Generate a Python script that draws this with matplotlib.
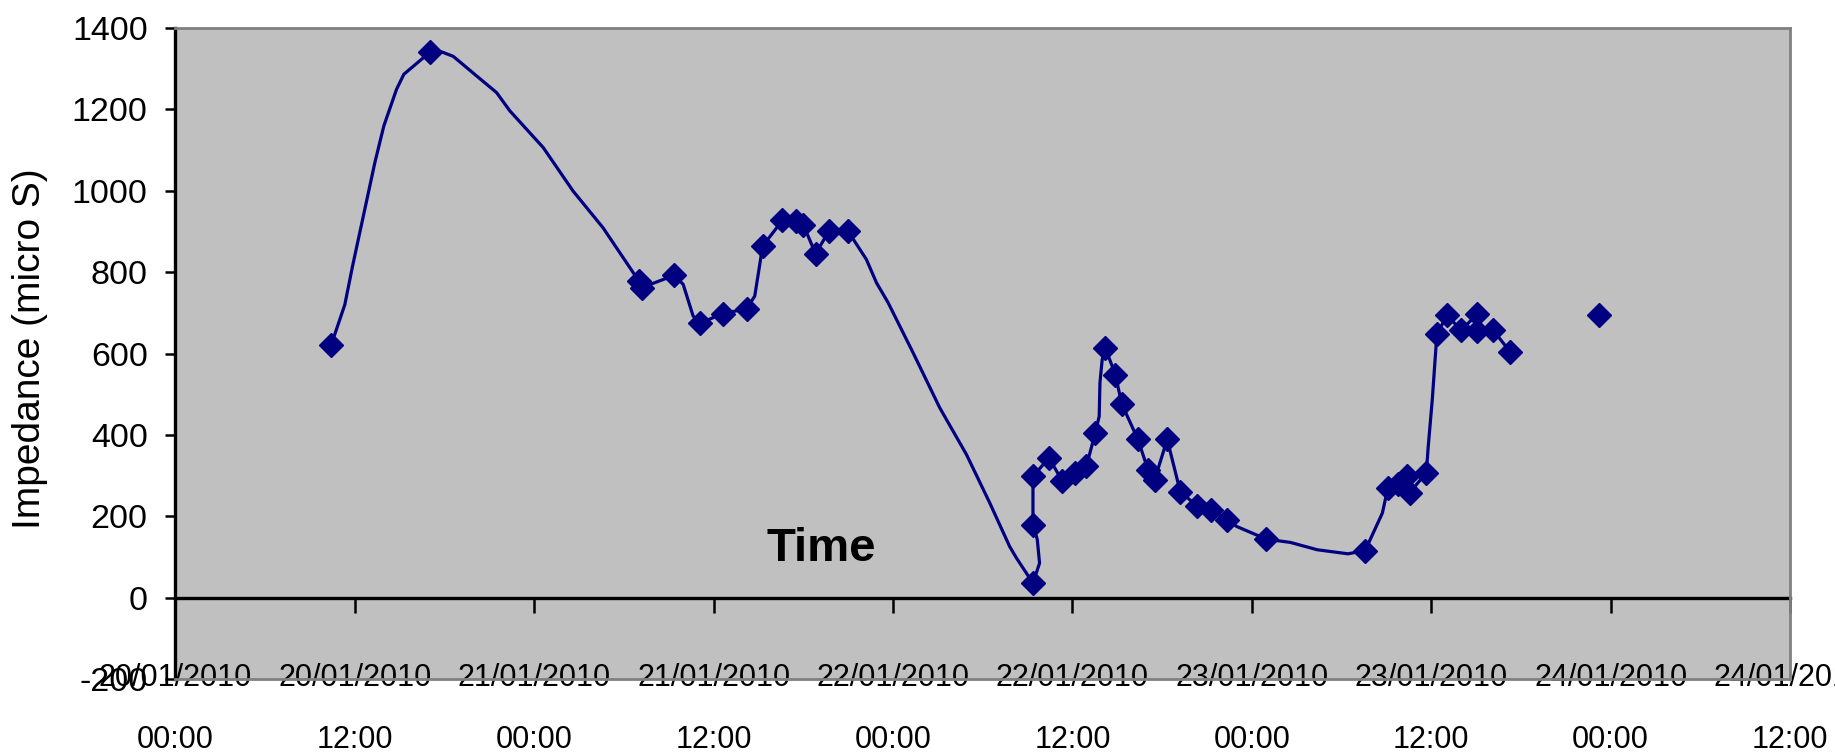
import matplotlib
matplotlib.use('Agg')
import matplotlib.pyplot as plt
from datetime import datetime, timedelta

# hours counted from 20/01/2010 00:00
start = datetime(2010, 1, 20, 0, 0)

marker_hours = [10.41, 17.02, 31.0, 31.2, 33.36, 35.1, 36.63, 38.2, 39.28, 40.6,
                41.5, 42.0, 42.82, 43.7, 45.0, 57.36, 57.36, 57.36, 58.43, 59.33,
                60.15, 60.93, 61.53, 62.2, 62.87, 63.3, 64.38, 65.05, 65.5, 66.34,
                67.21, 68.31, 69.27, 70.36, 72.97, 79.58, 81.1, 81.8, 82.4, 82.55,
                83.67, 84.38, 85.08, 85.98, 87.07, 87.07, 88.15, 89.3, 95.2]
marker_values = [620, 1340, 778, 762, 792, 675, 698, 710, 864, 927,
                 925, 916, 845, 900, 900, 36, 180, 298, 344, 286,
                 307, 323, 405, 614, 548, 476, 389, 315, 290, 389,
                 261, 226, 216, 190, 144, 116, 270, 280, 300, 258,
                 307, 649, 694, 657, 696, 655, 657, 603, 694]

line_hours = [10.41, 11.33, 11.85, 13.34, 13.94, 14.79, 15.28, 17.02, 17.8, 18.58,
              20.14, 21.48, 22.37, 24.6, 26.6, 28.6, 31.0, 31.2, 33.36, 33.96,
              34.63, 35.1, 36.63, 38.2, 38.75, 39.28, 40.6, 41.5, 42.0, 42.82,
              43.7, 45.0, 46.22, 46.89, 47.67, 49.34, 51.12, 52.91, 54.47, 55.8,
              56.25, 57.36, 57.8, 57.65, 57.36, 57.36, 58.43, 59.33, 60.15, 60.93,
              61.53, 61.79, 61.84, 61.99, 62.2, 62.87, 63.3, 64.38, 65.05, 65.5,
              66.34, 67.21, 68.31, 69.27, 70.36, 71.0, 72.97, 74.58, 76.37, 78.43,
              79.58, 80.73, 81.1, 81.8, 82.4, 82.55, 83.67, 83.8, 84.07, 84.38,
              85.08, 85.98, 87.07, 87.07, 88.15, 89.3]
line_values = [620, 720, 815, 1069, 1159, 1249, 1286, 1340, 1341, 1330,
               1282, 1241, 1196, 1106, 999, 909, 778, 762, 792, 770,
               692, 675, 698, 710, 741, 864, 927, 925, 916, 845,
               900, 900, 831, 774, 725, 602, 467, 352, 233, 126,
               98, 36, 85, 143, 180, 298, 344, 286, 307, 323,
               405, 446, 528, 585, 614, 548, 476, 389, 315, 290,
               389, 261, 226, 216, 190, 175, 144, 136, 118, 108,
               116, 208, 270, 280, 300, 258, 307, 372, 487, 649,
               694, 657, 696, 655, 657, 603]

x_ticks = list(range(0, 109, 12))
x_labels = [(start + timedelta(hours=h)).strftime('%d/%m/%Y\n%H:%M') for h in x_ticks]
y_ticks = list(range(-200, 1401, 200))

font = ['Liberation Sans', 'DejaVu Sans']
navy = '#000080'

fig = plt.figure(figsize=(18.35, 7.52), dpi=100)
ax = fig.add_axes([0.0956, 0.0968, 0.9755 - 0.0956, 0.963 - 0.0968])
ax.set_facecolor('#C0C0C0')

ax.plot(line_hours, line_values, color=navy, lw=2.3, zorder=3)
ax.plot(marker_hours, marker_values, ls='none', marker='D', ms=12,
        color=navy, mec=navy, mew=1, zorder=4)

ax.set_xlim(0, 108)
ax.set_ylim(-200, 1400)

# date labels along the bottom, no tick marks there
ax.set_xticks(x_ticks)
ax.set_xticklabels(x_labels, family=font, fontsize=22, linespacing=2.4)
ax.tick_params(axis='x', length=0, pad=-11.5)

ax.set_yticks(y_ticks)
ax.set_yticklabels([str(v) for v in y_ticks], family=font, fontsize=24.5)
ax.tick_params(axis='y', direction='out', length=7, width=1.8, pad=13)

ax.spines['left'].set_linewidth(2.4)
ax.spines['left'].set_color('black')
for s in ['top', 'right', 'bottom']:
    ax.spines[s].set_color('#808080')
    ax.spines[s].set_linewidth(2)

# axis line at zero with the tick marks
zero = ax.secondary_xaxis(200 / 1600)
zero.set_xticks(x_ticks)
zero.tick_params(direction='out', length=11, width=1.8, labelbottom=False)
zero.spines['bottom'].set_linewidth(2.4)
zero.spines['bottom'].set_color('black')

ax.set_ylabel('Impedance (micro S)', family=font, fontsize=28)
ax.yaxis.set_label_coords(-0.079, 0.507)

ax.text(0.3998, 0.182, 'Time', transform=ax.transAxes, ha='center', va='baseline',
        family=font, fontsize=34, fontweight='bold')

fig.savefig('out.png', dpi=100)
